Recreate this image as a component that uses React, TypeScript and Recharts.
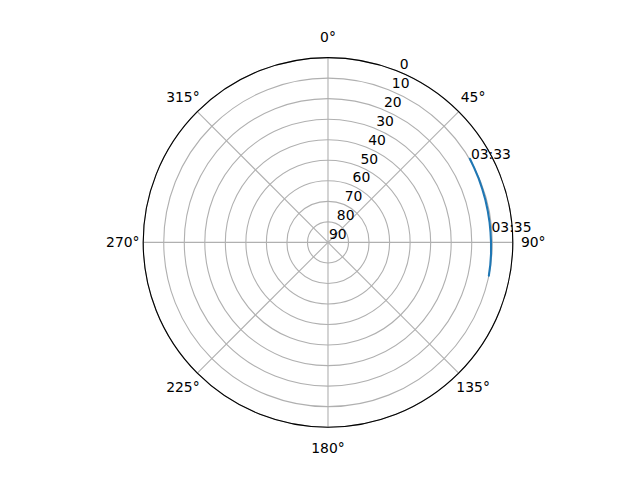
import React from 'react'
import { PolarAngleAxis, PolarGrid, PolarRadiusAxis, Radar, RadarChart } from 'recharts'

// azimuth (deg, clockwise from north) and elevation (deg) of the pass
const azimuth = [59.5, 63, 67, 71, 75, 79, 83, 86.5, 90, 94, 98, 101.7]
const elevation = [9.8, 10.1, 10.3, 10.5, 10.6, 10.7, 10.7, 10.7, 10.6, 10.4, 10.2, 10.0]
const timeLabels = ['03:33', '', '', '', '', '', '', '03:35', '', '', '', '']

const angleTicks = [0, 45, 90, 135, 180, 225, 270, 315]
const radiusTicks = [0, 10, 20, 30, 40, 50, 60, 70, 80, 90]

const FONT = "'DejaVu Sans', sans-serif"
const FS = 13.9

// Radar always closes its polygon, so the track is walked forward and back
// again: the return leg lies on top of the first and it reads as an open line.
const forward = azimuth.map((a, i) => ({ az: a, el: elevation[i], time: timeLabels[i] }))
const backward = azimuth
  .map((a, i) => ({ az: a, el: elevation[i], time: '' }))
  .reverse()
  .slice(1, -1)
const rows: any[] = [...forward, ...backward]

const renderAngleTick = ({ x, y, payload }: any) => (
  <text x={x} y={y} textAnchor="middle" dominantBaseline="central" fontFamily={FONT} fontSize={FS} fill="#000">
    {payload.value}°
  </text>
)

const renderRadiusTick = ({ x, y, payload }: any) => (
  <text x={x + 1} y={y - 3} textAnchor="start" fontFamily={FONT} fontSize={FS} fill="#000">
    {payload.value}
  </text>
)

const renderDot = (props: any) => {
  const { cx, cy, index } = props
  const row = props.payload && props.payload.payload ? props.payload.payload : props.payload
  if (!row || !row.time || !Number.isFinite(cx) || !Number.isFinite(cy)) return <g key={`d${index}`} />
  return (
    <text key={`d${index}`} x={cx + 1} y={cy} textAnchor="start" fontFamily={FONT} fontSize={FS} fill="#000">
      {row.time}
    </text>
  )
}

const App = () => {
  return (
    <div style={{ position: 'absolute', left: 0, top: 0, width: 640, height: 480, background: '#fff' }}>
      <RadarChart
        width={640}
        height={480}
        data={rows}
        cx={328}
        cy={242.4}
        innerRadius={0}
        outerRadius={184.8}
        startAngle={90}
        endAngle={-270}
        margin={{ top: 0, right: 0, bottom: 0, left: 0 }}
      >
        <PolarGrid gridType="circle" stroke="#b0b0b0" strokeWidth={1.1} />
        <PolarAngleAxis
          dataKey="az"
          type="number"
          domain={[0, 360]}
          ticks={angleTicks}
          axisLineType="circle"
          axisLine={{ stroke: '#000', strokeWidth: 1.1 }}
          tickLine={false}
          tickSize={20.4}
          tick={renderAngleTick}
        />
        <PolarRadiusAxis
          type="number"
          domain={[0, 90]}
          reversed
          ticks={radiusTicks}
          tickCount={10}
          angle={67.5}
          axisLine={false}
          tickLine={false}
          tick={renderRadiusTick}
        />
        <Radar
          dataKey="el"
          stroke="#1f77b4"
          strokeWidth={2.1}
          strokeLinejoin="round"
          fill="none"
          fillOpacity={0}
          dot={renderDot}
          isAnimationActive={false}
        />
      </RadarChart>
    </div>
  )
}

export default App
